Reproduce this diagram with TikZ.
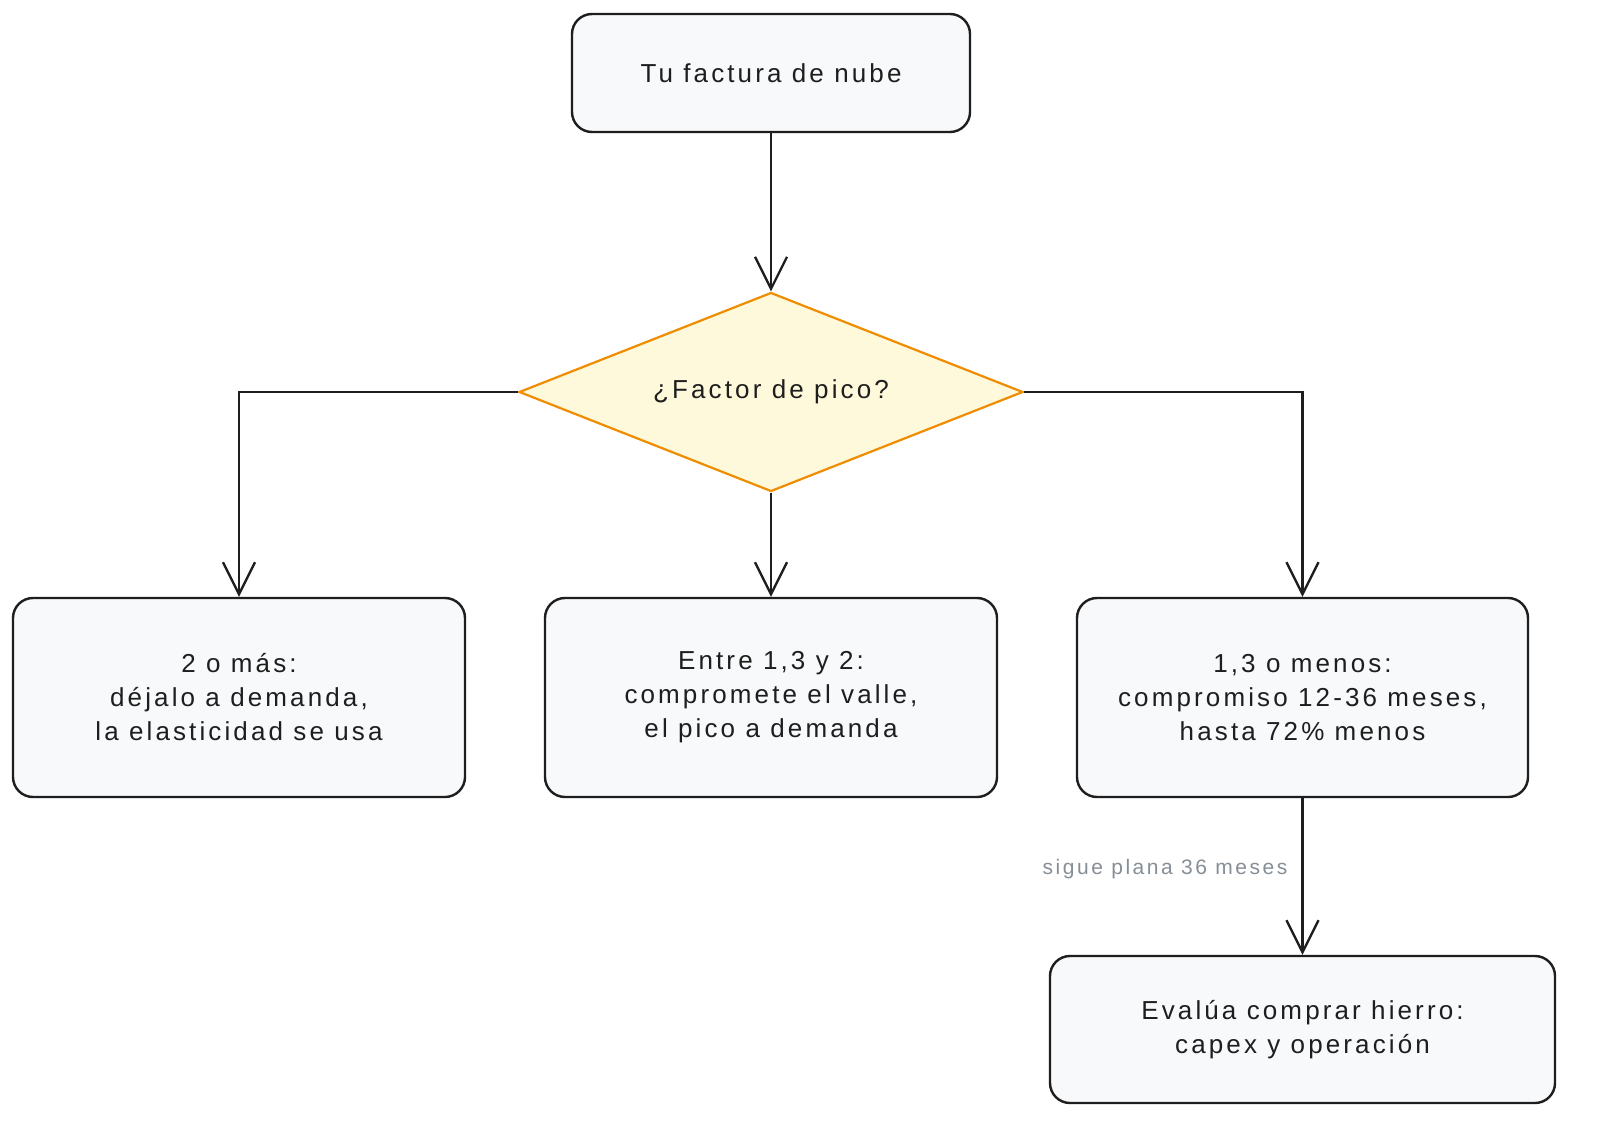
\documentclass[tikz,border=0pt]{standalone}
\usepackage{fontspec}
\setmainfont{Liberation Sans}[LetterSpace=12]
\usetikzlibrary{shapes.geometric,arrows.meta}
\definecolor{ink}{HTML}{1E1E1E}
\definecolor{boxfill}{HTML}{F8F9FA}
\definecolor{decfill}{HTML}{FFF9DB}
\definecolor{decline}{HTML}{F08C00}
\definecolor{lblgray}{HTML}{868E96}
\tikzset{
  procbox/.style={draw=ink, fill=boxfill, line width=2.4pt, rounded corners=20pt,
    inner sep=0pt, align=center, text=ink, font=\fontsize{26}{34}\selectfont},
  decbox/.style={draw=decline, fill=decfill, line width=2.2pt, diamond, shape aspect=2.53,
    inner sep=0pt, minimum width=504pt, minimum height=199pt, text=ink,
    font=\fontsize{26}{34}\selectfont},
  arr/.style={draw=ink, line width=2.3pt, -{Straight Barb[length=32pt, width=32pt, line width=2.3pt]}},
  lbl/.style={text=lblgray, font=\fontsize{21}{26}\selectfont}
}
\begin{document}
\begin{tikzpicture}[x=1pt, y=-1pt]
\useasboundingbox[fill=white] (0,0) rectangle (1600,1139);
\node[procbox, minimum width=398pt, minimum height=118pt] (top) at (771,73) {Tu factura de nube};
\node[decbox] (dec) at (771,392) {¿Factor de pico?};
\node[procbox, minimum width=452pt, minimum height=199pt] (left) at (239,697.5) {2 o más:\\déjalo a demanda,\\la elasticidad se usa};
\node[procbox, minimum width=452pt, minimum height=199pt] (mid) at (771,697.5) {Entre 1,3 y 2:\\compromete el valle,\\el pico a demanda};
\node[procbox, minimum width=451pt, minimum height=199pt] (right) at (1302.5,697.5) {1,3 o menos:\\compromiso 12-36 meses,\\hasta 72\% menos};
\node[procbox, minimum width=505pt, minimum height=147pt] (final) at (1302.5,1029.5) {Evalúa comprar hierro:\\capex y operación};
\draw[arr] (top.south) -- (dec.north);
\draw[arr] (dec.west) -| (left.north);
\draw[arr] (dec.south) -- (mid.north);
\draw[arr] (dec.east) -| (right.north);
\draw[arr] (right.south) -- node[pos=0.45, left, lbl, inner sep=0pt, xshift=-14pt] (lab) {sigue plana 36 meses} (final.north);
\end{tikzpicture}
\end{document}
